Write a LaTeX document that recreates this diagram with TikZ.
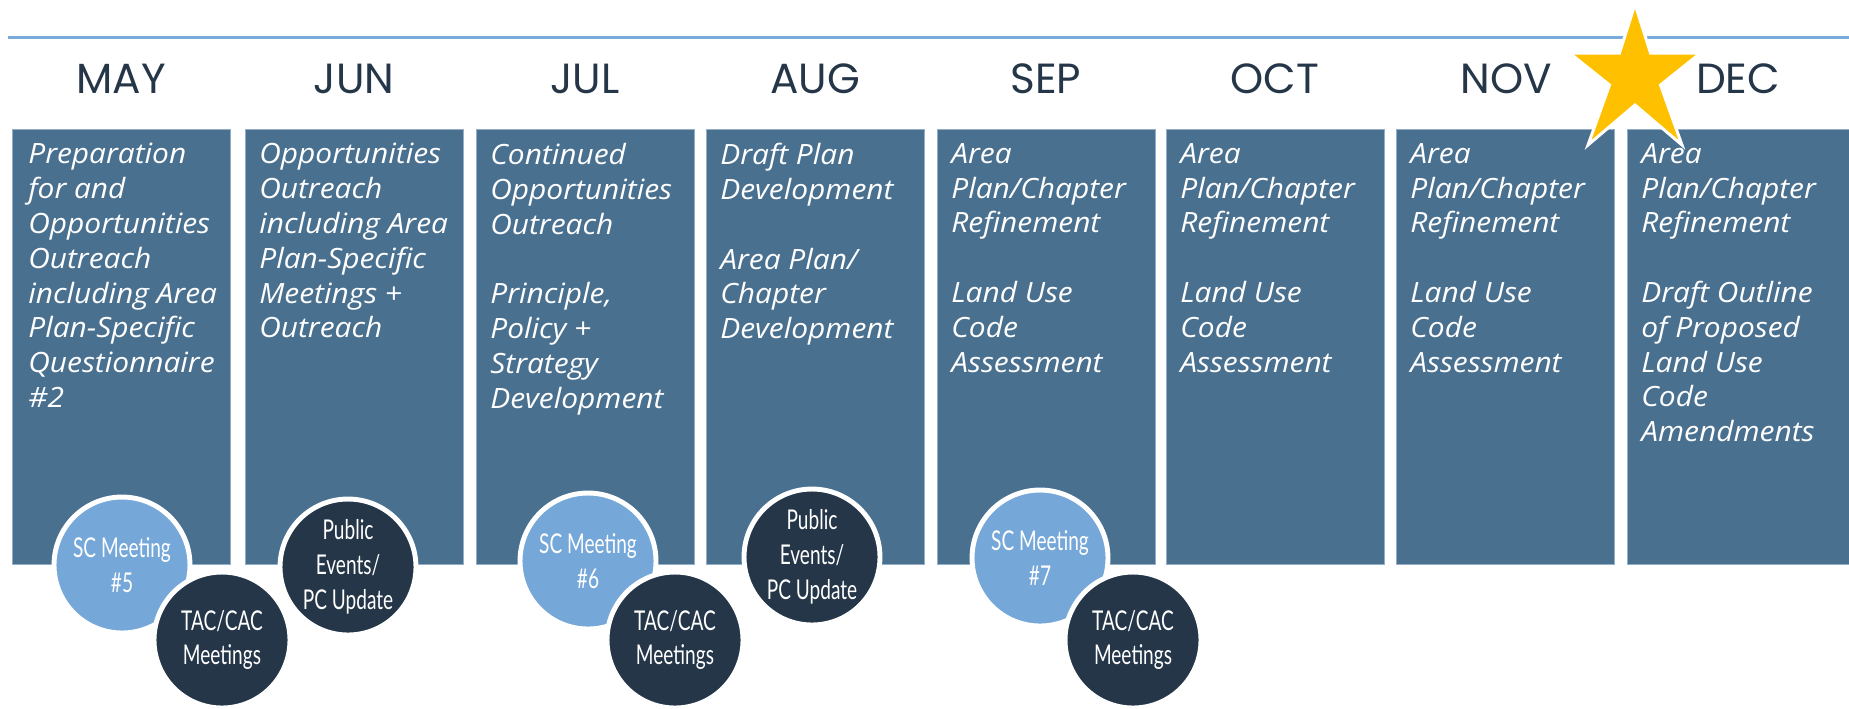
\documentclass[tikz,border=0pt]{standalone}
\usepackage{fontspec}
\newfontfamily\monthfont{Poppins}
\newfontfamily\taskfont[FakeStretch=1.07]{Open Sans}
\newfontfamily\meetfont[FakeStretch=0.7]{Lato}
\definecolor{navy}{HTML}{253649}
\definecolor{slateblue}{HTML}{4A7090}
\definecolor{edgeblue}{HTML}{93AEC6}
\definecolor{skyblue}{HTML}{75A8D8}
\definecolor{linkblue}{HTML}{78AADC}
\definecolor{gold}{HTML}{FFC000}

\begin{document}
\begin{tikzpicture}[x=0.02cm, y=-0.02cm,
  monthlbl/.style={anchor=base, inner sep=0pt, text=navy, font=\monthfont\fontsize{24}{28}\selectfont},
  taskbox/.style={anchor=north west, fill=slateblue, draw=edgeblue, line width=0.5pt,
    minimum width=4.36cm, minimum height=8.7cm, inner sep=0pt},
  tasktxt/.style={anchor=north west, inner sep=0pt, align=left, text=white,
    font=\taskfont\itshape\fontsize{15.9}{19.8}\selectfont},
  meet/.style={circle, draw=white, line width=2.8pt, minimum size=2.72cm, inner sep=0pt,
    align=center, text=white, font=\meetfont\fontsize{15.5}{19.8}\selectfont},
  scmeet/.style={meet, fill=skyblue},
  darkmeet/.style={meet, fill=navy}]
\useasboundingbox (0,0) rectangle (1849,708);

% timeline rule
\coordinate (rulestart) at (8,37);
\coordinate (ruleend) at (1849,37);
\draw[linkblue, line width=1.7pt] (rulestart) -- (ruleend);

% months
\node[monthlbl] (may) at (121,93) {MAY};
\node[monthlbl] (jun) at (354,93) {JUN};
\node[monthlbl] (jul) at (585,93) {JUL};
\node[monthlbl] (aug) at (815,93) {AUG};
\node[monthlbl] (sep) at (1046,93) {SEP};
\node[monthlbl] (oct) at (1275,93) {OCT};
\node[monthlbl] (nov) at (1506,93) {NOV};
\node[monthlbl] (dec) at (1738,93) {DEC};

% task columns
\node[taskbox] (bmay) at (12,129) {};
\node[taskbox] (bjun) at (245,129) {};
\node[taskbox] (bjul) at (476,129) {};
\node[taskbox] (baug) at (706,129) {};
\node[taskbox] (bsep) at (937,129) {};
\node[taskbox] (boct) at (1166,129) {};
\node[taskbox] (bnov) at (1396,129) {};
\node[taskbox, minimum width=4.5cm] (bdec) at (1627,129) {};

\node[tasktxt] (tmay) at (28,143) {Preparation\\for and\\Opportunities\\Outreach\\including Area\\Plan-Specific\\Questionnaire\\\#2};
\node[tasktxt] (tjun) at (259,143) {Opportunities\\Outreach\\including Area\\Plan-Specific\\Meetings +\\Outreach};
\node[tasktxt] (tjul) at (490,143) {Continued\\Opportunities\\Outreach\\[19.8pt]Principle,\\Policy +\\Strategy\\Development};
\node[tasktxt] (taug) at (720,143) {Draft Plan\\Development\\[19.8pt]Area Plan/\\Chapter\\Development};
\node[tasktxt] (tsep) at (951,143) {Area\\Plan/Chapter\\Refinement\\[19.8pt]Land Use\\Code\\Assessment};
\node[tasktxt] (toct) at (1180,143) {Area\\Plan/Chapter\\Refinement\\[19.8pt]Land Use\\Code\\Assessment};
\node[tasktxt] (tnov) at (1410,143) {Area\\Plan/Chapter\\Refinement\\[19.8pt]Land Use\\Code\\Assessment};
\node[tasktxt] (tdec) at (1641,143) {Area\\Plan/Chapter\\Refinement\\[19.8pt]Draft Outline\\of Proposed\\Land Use\\Code\\Amendments};

% milestone star
\fill[gold, draw=white, line width=1.7pt, line join=miter]
  (1635,4) -- (1650.5,53) -- (1700.5,53) -- (1660.5,85) -- (1682,145)
  -- (1635,105) -- (1588,145) -- (1609.5,85) -- (1569.5,53) -- (1619.5,53) -- cycle;

% meetings
\node[scmeet] (sc5) at (122,565) {SC Meeting\\\#5};
\node[darkmeet] (tac1) at (222,640) {TAC/CAC\\Meetings};
\node[darkmeet] (pub1) at (348,567) {Public\\Events/\\PC Update};
\node[scmeet] (sc6) at (588,561) {SC Meeting\\\#6};
\node[darkmeet] (tac2) at (675,640) {TAC/CAC\\Meetings};
\node[darkmeet] (pub2) at (812,557) {Public\\Events/\\PC Update};
\node[scmeet] (sc7) at (1040,558) {SC Meeting\\\#7};
\node[darkmeet] (tac3) at (1133,640) {TAC/CAC\\Meetings};
\end{tikzpicture}
\end{document}
